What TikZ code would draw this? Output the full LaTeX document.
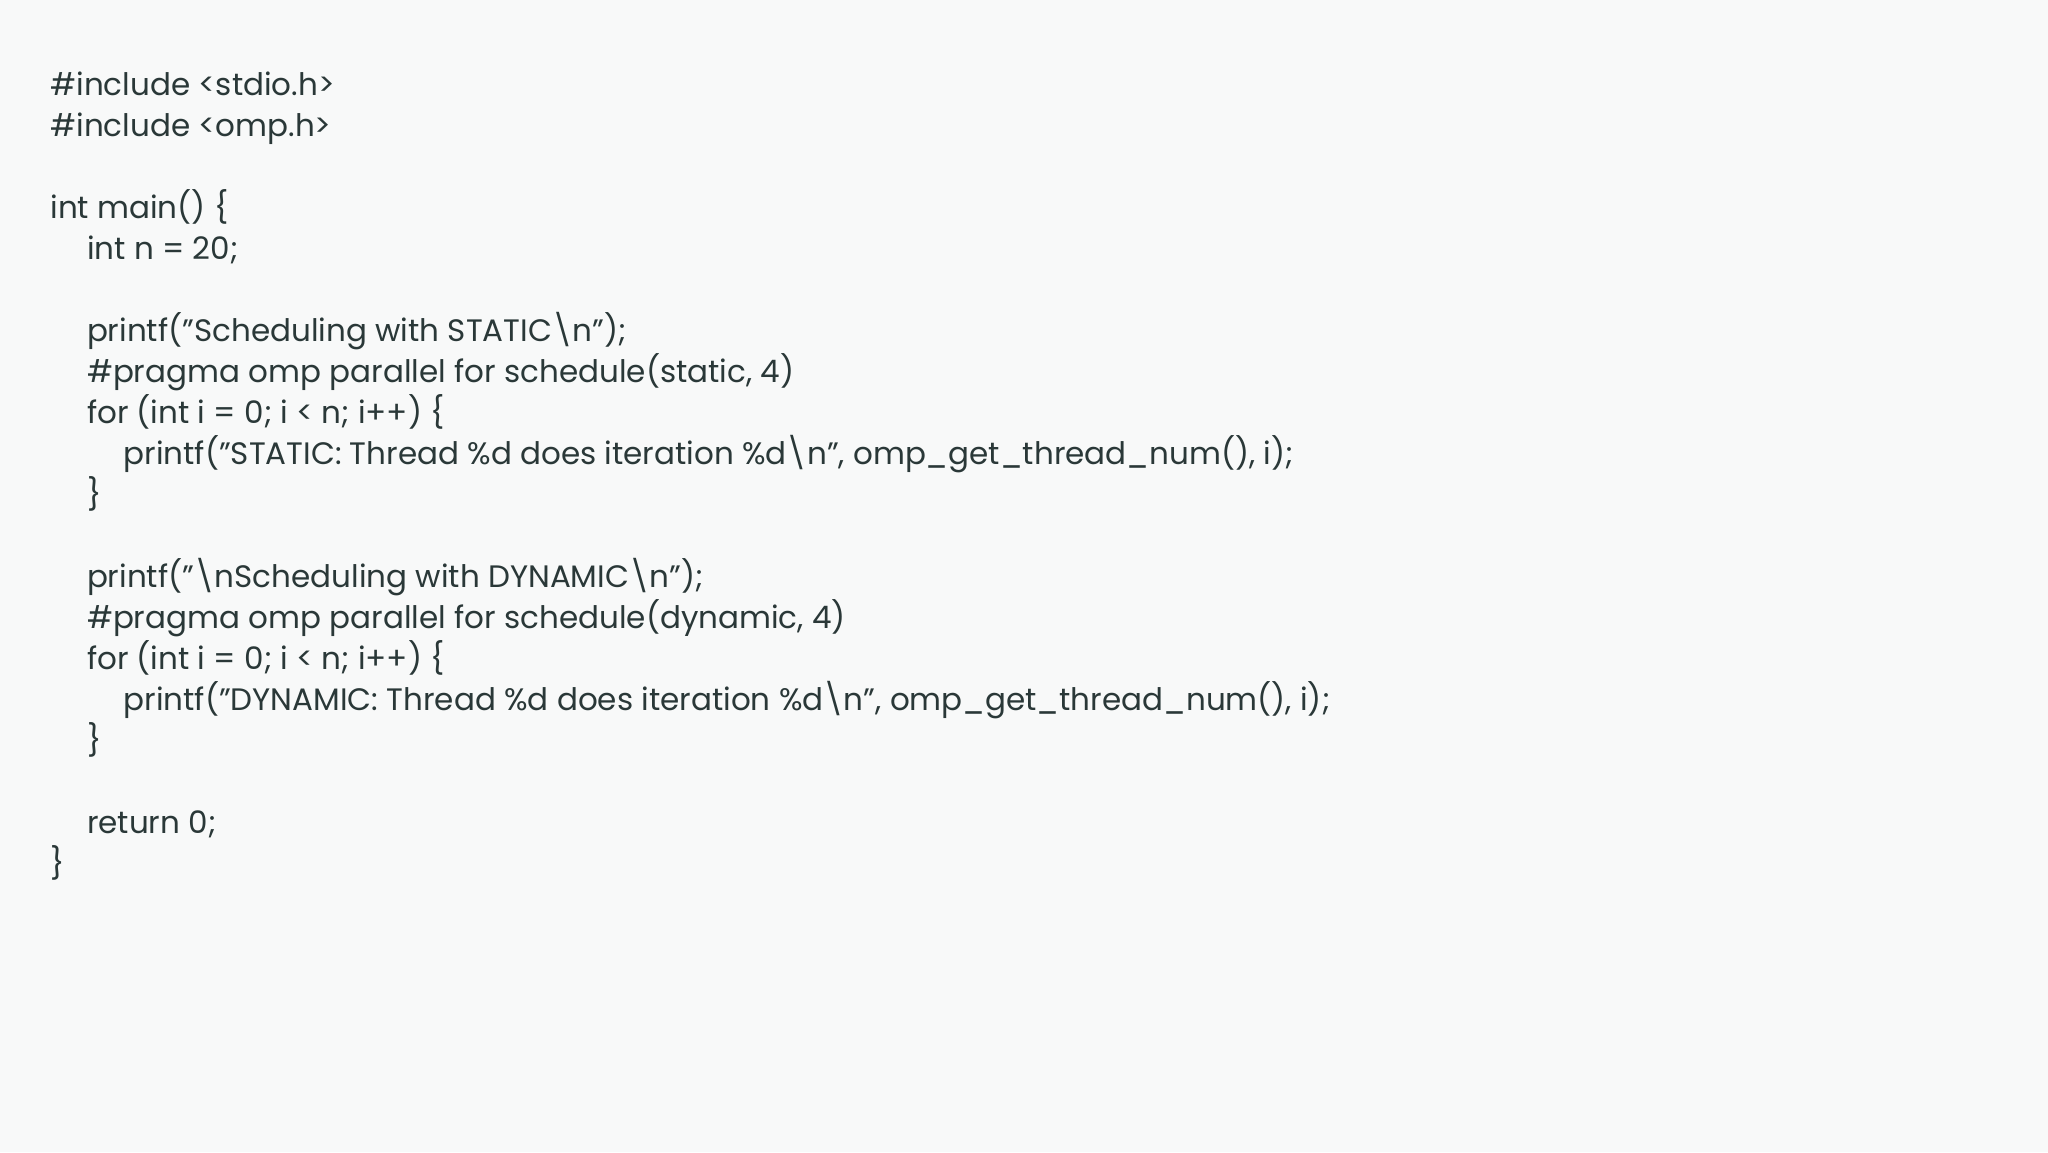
\documentclass[tikz,border=0pt]{standalone}
\usepackage{fontspec}
\setmainfont{Poppins}
\definecolor{bg}{HTML}{F8F9F9}
\definecolor{txt}{HTML}{2A3838}
\tikzset{codeline/.style={anchor=base west,inner sep=0pt,text=txt,font=\fontsize{15.5}{18}\selectfont}}
\newcommand{\bs}{\textbackslash}
\begin{document}
\begin{tikzpicture}[x=1pt,y=1pt]
\fill[bg] (0,0) rectangle (1024,576);
\useasboundingbox (0,0) rectangle (1024,576);
\def\L{25}\def\I{18.3}
\node[codeline] (l1) at (\L,528.3) {\#include <stdio.h>};
\node[codeline] (l2) at (\L,507.8) {\#include <omp.h>};
\node[codeline] (l4) at (\L,466.8) {int main() \{};
\node[codeline] (l5) at (\L+\I,446.3) {int n = 20;};
\node[codeline] (l7) at (\L+\I,405.3) {printf("Scheduling with STATIC\bs n");};
\node[codeline] (l8) at (\L+\I,384.8) {\#pragma omp parallel for schedule(static, 4)};
\node[codeline] (l9) at (\L+\I,364.3) {for (int i = 0; i < n; i++) \{};
\node[codeline] (l10) at (\L+2*\I,343.8) {printf("STATIC: Thread \%d does iteration \%d\bs n", omp\_get\_thread\_num(), i);};
\node[codeline] (l11) at (\L+\I,323.3) {\}};
\node[codeline] (l13) at (\L+\I,282.3) {printf("\bs nScheduling with DYNAMIC\bs n");};
\node[codeline] (l14) at (\L+\I,261.8) {\#pragma omp parallel for schedule(dynamic, 4)};
\node[codeline] (l15) at (\L+\I,241.3) {for (int i = 0; i < n; i++) \{};
\node[codeline] (l16) at (\L+2*\I,220.8) {printf("DYNAMIC: Thread \%d does iteration \%d\bs n", omp\_get\_thread\_num(), i);};
\node[codeline] (l17) at (\L+\I,200.3) {\}};
\node[codeline] (l19) at (\L+\I,159.3) {return 0;};
\node[codeline] (l20) at (\L,138.8) {\}};
\end{tikzpicture}
\end{document}
